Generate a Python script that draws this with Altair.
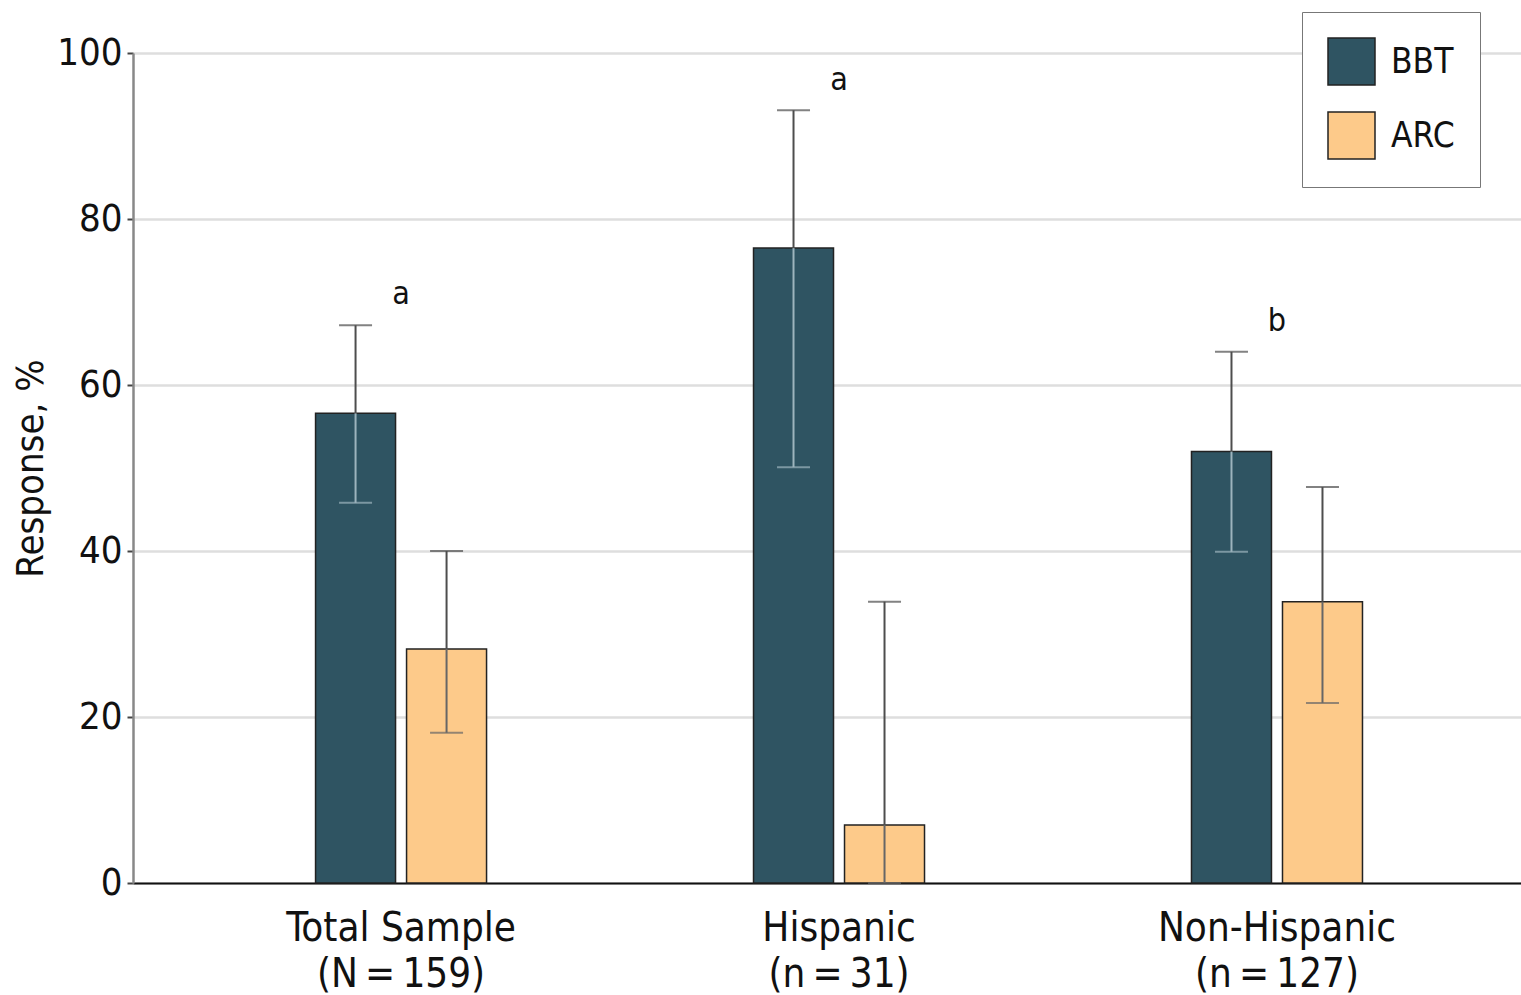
import altair as alt
import pandas as pd

# Response rates (%) with 95% CI bounds per group and treatment arm
groups = ["Total Sample\n(N\u2009=\u2009159)", "Hispanic\n(n\u2009=\u200931)", "Non-Hispanic\n(n\u2009=\u2009127)"]
series = ["BBT", "ARC"]
bbt = [56.6, 76.5, 52.0]
bbt_lo = [45.8, 50.1, 39.9]
bbt_hi = [67.2, 93.1, 64.0]
arc = [28.2, 7.0, 33.9]
arc_lo = [18.1, 0.0, 21.7]
arc_hi = [40.0, 33.9, 47.7]
letters = ["a", "a", "b"]

colors = ["#2f5462", "#fdca8a"]
FONT = "Liberation Sans Narrow, DejaVu Sans Condensed, Liberation Sans, sans-serif"

rows = []
for i, g in enumerate(groups):
    rows.append({"group": g, "series": "BBT", "value": bbt[i], "lo": bbt_lo[i], "hi": bbt_hi[i]})
    rows.append({"group": g, "series": "ARC", "value": arc[i], "lo": arc_lo[i], "hi": arc_hi[i]})
df = pd.DataFrame(rows)

sig = pd.DataFrame({"group": groups, "letter": letters, "hi": bbt_hi})

x_enc = alt.X(
    "group:N",
    sort=groups,
    scale=alt.Scale(range=[0, 1412], paddingInner=0, paddingOuter=0.112),
    axis=alt.Axis(
        title=None,
        labelAngle=0,
        labelExpr="split(datum.value, '\\n')",
        labelFontSize=40,
        labelFont=FONT,
        labelColor="#111",
        labelLineHeight=46,
        labelPadding=25,
        labelLimit=0,
        ticks=False,
        domainColor="#111",
        domainWidth=2,
        grid=False,
    ),
)
xo_enc = alt.XOffset(
    "series:N",
    sort=series,
    scale=alt.Scale(range=[133.5, 304.5], paddingInner=0.121, paddingOuter=0),
)
y_enc = alt.Y(
    "value:Q",
    scale=alt.Scale(domain=[0, 100], nice=False),
    axis=alt.Axis(
        title="Response, %",
        values=[0, 20, 40, 60, 80, 100],
        labelFontSize=38,
        labelFont=FONT,
        labelColor="#111",
        labelPadding=5,
        tickSize=6,
        tickColor="#444",
        tickWidth=2,
        domainColor="#888",
        domainWidth=2.5,
        gridColor="#dedede",
        gridWidth=2.5,
        titleFontSize=38,
        titleFont=FONT,
        titleFontWeight="normal",
        titleColor="#111",
        titlePadding=6,
    ),
)

base = alt.Chart(df)

bars = base.mark_bar(stroke="#222", strokeWidth=1.5).encode(
    x=x_enc,
    xOffset=xo_enc,
    y=y_enc,
    color=alt.Color(
        "series:N",
        sort=series,
        scale=alt.Scale(domain=series, range=colors),
        legend=alt.Legend(
            title=None,
            orient="none",
            legendX=1169,
            legendY=-41,
            symbolType="square",
            symbolSize=2209,
            symbolStrokeColor="#222",
            symbolStrokeWidth=1.5,
            symbolOpacity=1,
            labelFontSize=35,
            labelFont=FONT,
            labelColor="#111",
            labelOffset=15,
            rowPadding=21,
            padding=25,
            strokeColor="#777",
            fillColor="white",
        ),
    ),
)

inside_col = alt.condition("datum.series === 'BBT'", alt.value("#9db4bd"), alt.value("#666"))

upper_rule = base.mark_rule(strokeWidth=2, color="#4d4d4d").encode(
    x=alt.X("group:N", sort=groups), xOffset=alt.XOffset("series:N", sort=series),
    y="value:Q", y2="hi:Q",
)
lower_rule = base.mark_rule(strokeWidth=2).encode(
    x=alt.X("group:N", sort=groups), xOffset=alt.XOffset("series:N", sort=series),
    y="lo:Q", y2="value:Q", color=inside_col,
)
upper_cap = base.mark_tick(size=33, thickness=2, color="#4d4d4d").encode(
    x=alt.X("group:N", sort=groups), xOffset=alt.XOffset("series:N", sort=series),
    y="hi:Q",
)
lower_cap = base.mark_tick(size=33, thickness=2).encode(
    x=alt.X("group:N", sort=groups), xOffset=alt.XOffset("series:N", sort=series),
    y="lo:Q", color=inside_col,
)

labels = alt.Chart(sig).transform_calculate(ly="datum.hi + 2.5").mark_text(
    fontSize=32, font=FONT, color="#111", baseline="alphabetic", align="center"
).encode(
    x=alt.X("group:N", sort=groups),
    y="ly:Q",
    text="letter:N",
)

chart = (
    alt.layer(bars, lower_rule, upper_rule, lower_cap, upper_cap, labels)
    .properties(
        width=1388,
        height=830,
        autosize=alt.AutoSizeParams(type="none"),
        padding={"left": 133, "top": 53, "right": 0, "bottom": 112},
        background="white",
    )
    .configure_view(stroke=None)
)

chart.save("out.html", embed_options={"renderer": "svg", "actions": False})
